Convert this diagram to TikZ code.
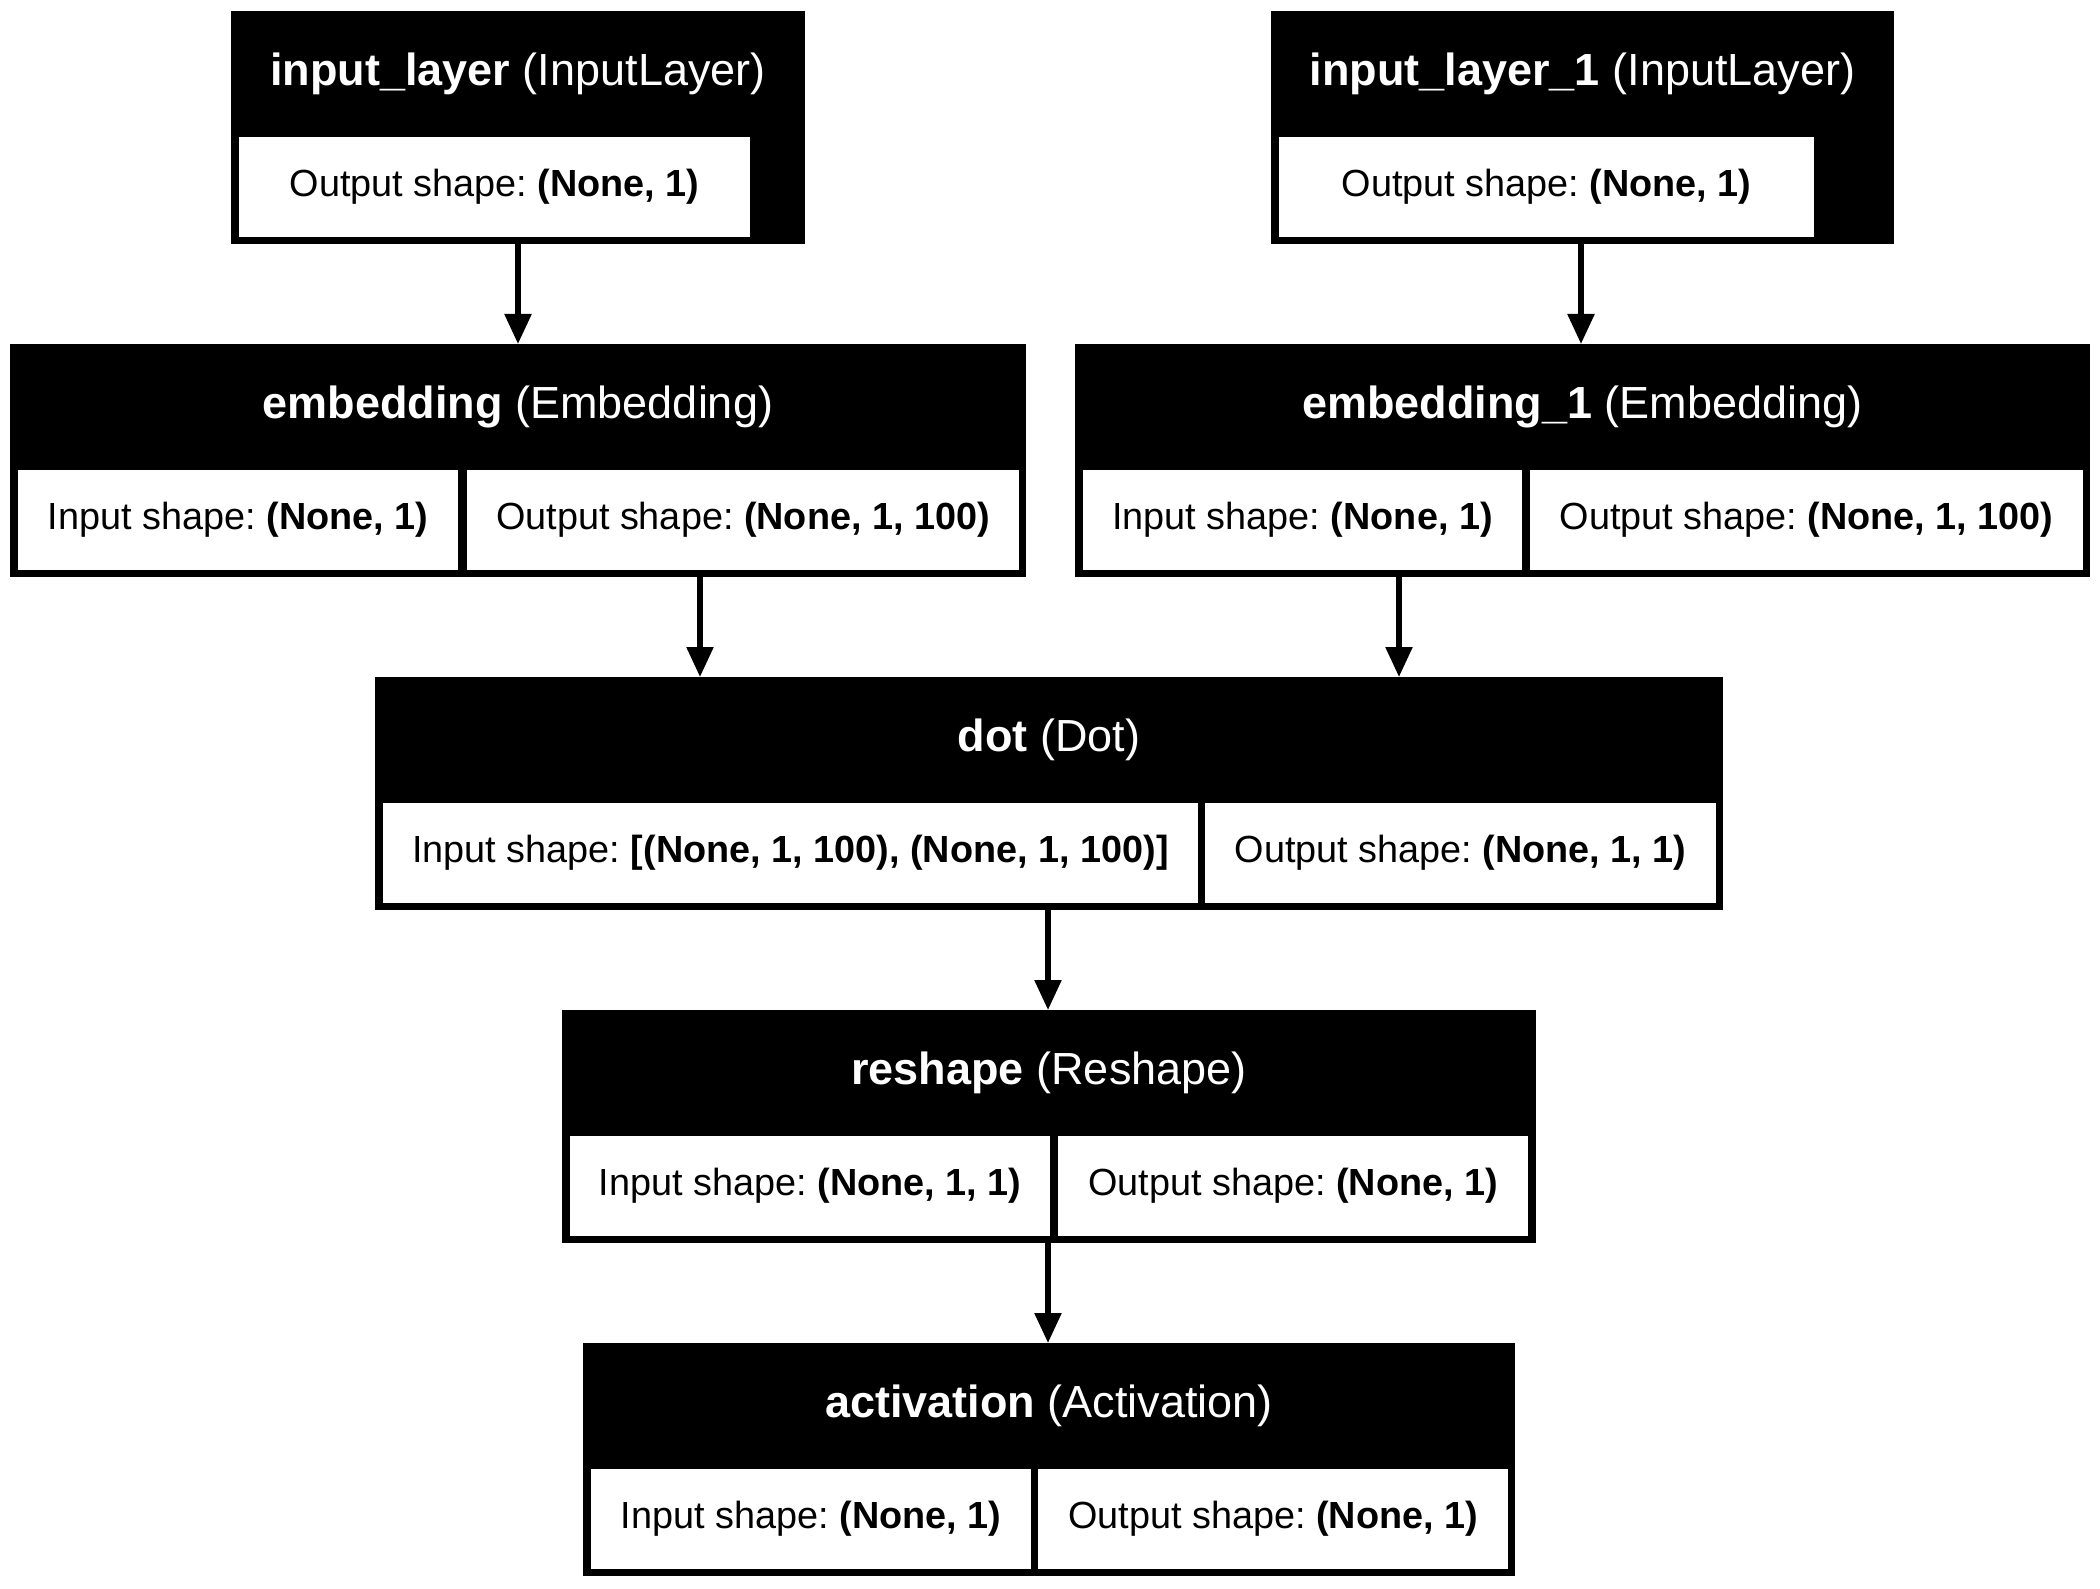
\documentclass[tikz,border=0pt]{standalone}
\usepackage{fontspec}
\setmainfont{Liberation Sans}
\usetikzlibrary{arrows.meta}
\tikzset{
  layerbox/.style={fill=black, draw=none, inner sep=0pt, outer sep=0pt, anchor=north west, minimum height=116.5pt},
  cellbox/.style={fill=white, draw=none, inner sep=0pt, outer sep=0pt, anchor=north west, minimum height=50pt, text=black, font=\fontsize{18.9}{22}\selectfont\frenchspacing},
  headtext/.style={inner sep=0pt, outer sep=0pt, anchor=north, minimum height=63pt, text=white, font=\fontsize{22.5}{27}\selectfont\frenchspacing},
  flow/.style={draw=black, line width=2.75pt, -{Triangle[length=15pt,width=13pt]}},
}
\begin{document}
\frenchspacing
\begin{tikzpicture}[x=0.5pt,y=-0.5pt]
\useasboundingbox[fill=white] (0,0) rectangle (2100,1589);

% input_layer
\node[layerbox, minimum width=287pt] (inp) at (231,11) {};
\node[headtext] (inph) at (inp.north) {\textbf{input\_layer} (InputLayer)};
\node[cellbox, minimum width=255.5pt] (inpo) at (239,137) {Output shape: \textbf{(None, 1)}};

% input_layer_1
\node[layerbox, minimum width=311.5pt] (inpb) at (1271,11) {};
\node[headtext] (inpbh) at (inpb.north) {\textbf{input\_layer\_1} (InputLayer)};
\node[cellbox, minimum width=267.5pt] (inpbo) at (1279,137) {Output shape: \textbf{(None, 1)}};

% embedding
\node[layerbox, minimum width=508pt] (emb) at (10,344) {};
\node[headtext] (embh) at (emb.north) {\textbf{embedding} (Embedding)};
\node[cellbox, minimum width=220pt] (embi) at (18,470) {Input shape: \textbf{(None, 1)}};
\node[cellbox, minimum width=276pt] (embo) at (467,470) {Output shape: \textbf{(None, 1, 100)}};

% embedding_1
\node[layerbox, minimum width=507.5pt] (embb) at (1075,344) {};
\node[headtext] (embbh) at (embb.north) {\textbf{embedding\_1} (Embedding)};
\node[cellbox, minimum width=219.5pt] (embbi) at (1083,470) {Input shape: \textbf{(None, 1)}};
\node[cellbox, minimum width=276.5pt] (embbo) at (1530,470) {Output shape: \textbf{(None, 1, 100)}};

% dot
\node[layerbox, minimum width=674pt] (dot) at (375,677) {};
\node[headtext] (doth) at (dot.north) {\textbf{dot} (Dot)};
\node[cellbox, minimum width=407.5pt] (doti) at (383,803) {Input shape: \textbf{[(None, 1, 100), (None, 1, 100)]}};
\node[cellbox, minimum width=255.5pt] (doto) at (1205,803) {Output shape: \textbf{(None, 1, 1)}};

% reshape
\node[layerbox, minimum width=487pt] (rsh) at (562,1010) {};
\node[headtext] (rshh) at (rsh.north) {\textbf{reshape} (Reshape)};
\node[cellbox, minimum width=240pt] (rshi) at (570,1136) {Input shape: \textbf{(None, 1, 1)}};
\node[cellbox, minimum width=235pt] (rsho) at (1058,1136) {Output shape: \textbf{(None, 1)}};

% activation
\node[layerbox, minimum width=466pt] (act) at (583,1343) {};
\node[headtext] (acth) at (act.north) {\textbf{activation} (Activation)};
\node[cellbox, minimum width=220pt] (acti) at (591,1469) {Input shape: \textbf{(None, 1)}};
\node[cellbox, minimum width=235pt] (acto) at (1038,1469) {Output shape: \textbf{(None, 1)}};

% connector columns
\coordinate (xa) at (518,0);
\coordinate (xb) at (1581,0);
\coordinate (xc) at (700,0);
\coordinate (xd) at (1399,0);
\coordinate (xe) at (1048,0);

\draw[flow] (inp.south -| xa) -- (emb.north -| xa);
\draw[flow] (inpb.south -| xb) -- (embb.north -| xb);
\draw[flow] (emb.south -| xc) -- (dot.north -| xc);
\draw[flow] (embb.south -| xd) -- (dot.north -| xd);
\draw[flow] (dot.south -| xe) -- (rsh.north -| xe);
\draw[flow] (rsh.south -| xe) -- (act.north -| xe);
\end{tikzpicture}
\end{document}
